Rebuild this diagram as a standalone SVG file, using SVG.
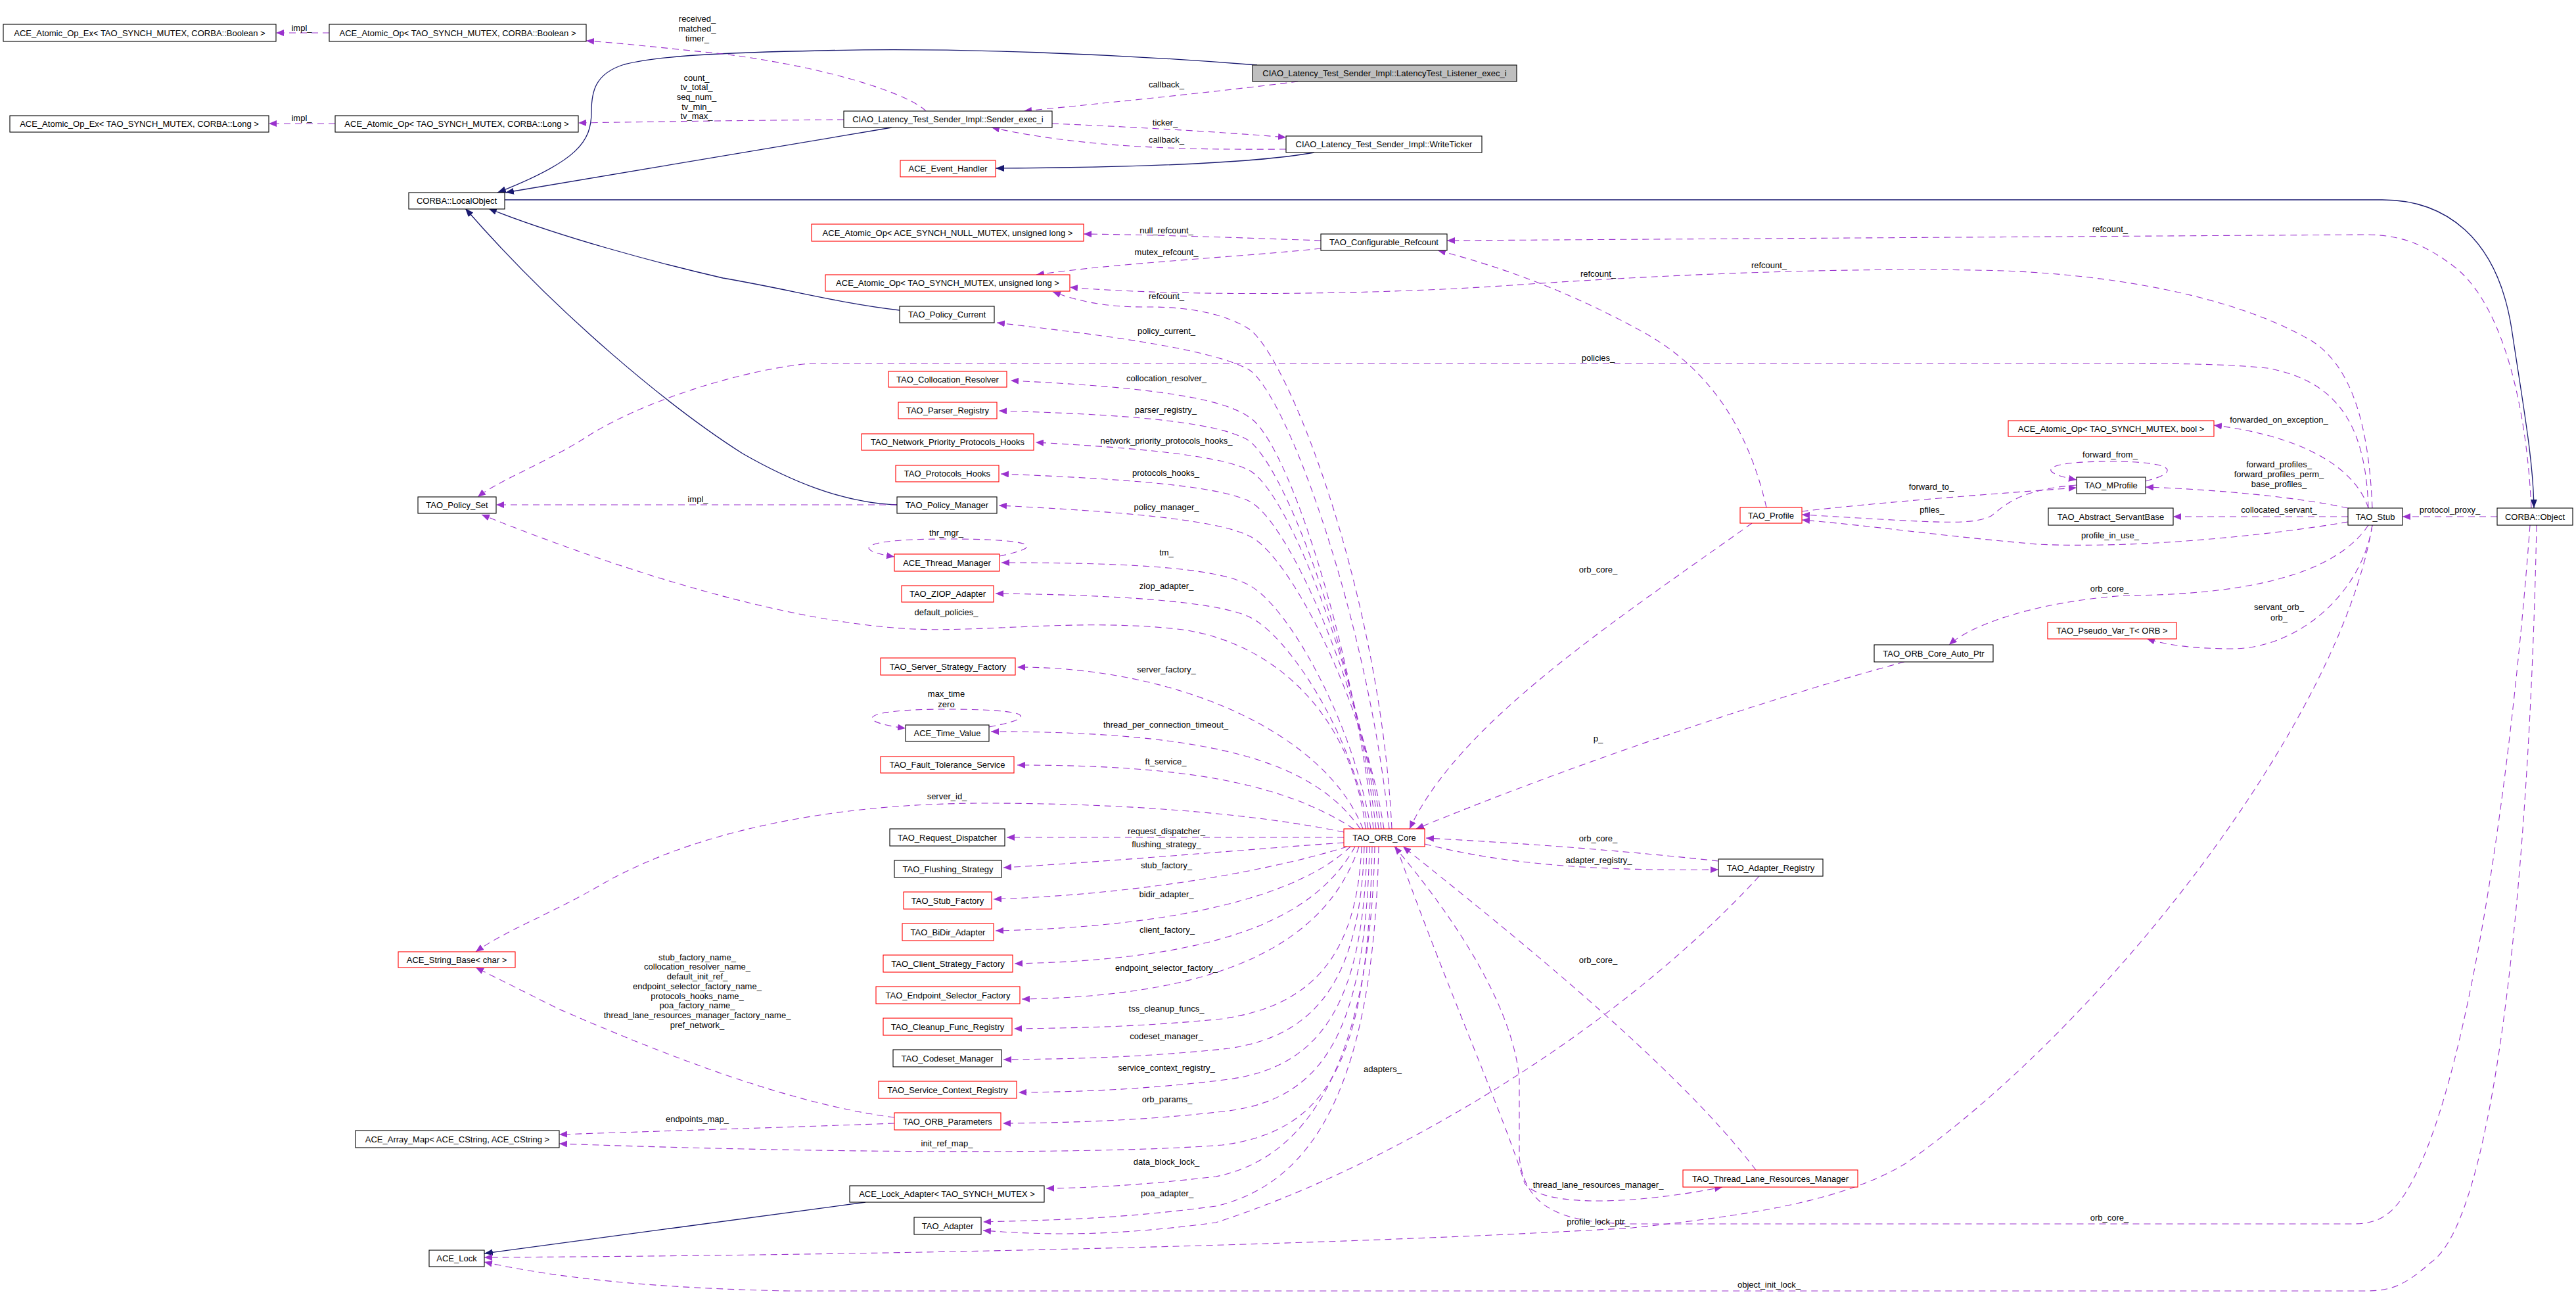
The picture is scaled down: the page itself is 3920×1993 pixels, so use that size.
<svg xmlns="http://www.w3.org/2000/svg" width="3920" height="1993" viewBox="0 0 3920 1993">
<defs>
<style>
text{font-family:"Liberation Sans",Arial,Helvetica,sans-serif;font-size:13px;fill:#000}
.n rect{fill:#fff;stroke:#000;stroke-width:1.1}
.n.r rect{stroke:#ff0000}
.n.g rect{fill:#bfbfbf}
.n text{text-anchor:middle}
.u{fill:none;stroke:#9a32cd;stroke-width:1.1;stroke-dasharray:10,7;marker-end:url(#ap)}
.i{fill:none;stroke:#191970;stroke-width:1.3;marker-end:url(#an)}
.l{text-anchor:middle}
</style>
<marker id="ap" viewBox="0 0 12 10" refX="12" refY="5" markerWidth="12" markerHeight="10" markerUnits="userSpaceOnUse" orient="auto"><path d="M0,0 L12,5 L0,10 z" fill="#9a32cd"/></marker>
<marker id="an" viewBox="0 0 13 10" refX="13" refY="5" markerWidth="13" markerHeight="10" markerUnits="userSpaceOnUse" orient="auto"><path d="M0,0 L13,5 L0,10 z" fill="#191970"/></marker>
</defs>
<rect width="3920" height="1993" fill="#fff"/>
<g id="edges">
<!-- inheritance -->
<path class="i" d="M1913,99 C1700,82 1450,72 1250,77 C1100,80 1000,85 950,98 C905,112 900,140 900,170 C900,215 880,245 757,293"/>
<path class="i" d="M1357,194 L769,293"/>
<path class="i" d="M1369,472 C1280,462 1200,440 1100,423 C1000,400 850,360 743,317"/>
<path class="i" d="M1365,768 C1280,765 1200,730 1130,690 C1020,620 850,480 708,317"/>
<path class="i" d="M768,304 L3625,304 C3720,304 3800,360 3822,500 C3840,620 3855,700 3856,773"/>
<path class="i" d="M2000,232 C1900,250 1700,255 1515,256"/>
<path class="i" d="M1317,1829 L737,1907"/>
<!-- usage -->
<path class="u" d="M501,50 L420,50"/>
<path class="u" d="M510,188 L409,188"/>
<path class="u" d="M1409,169 C1390,148 1280,105 1100,82 C1000,72 950,66 892,62"/>
<path class="u" d="M1284,182 C1150,183 1000,185 880,187"/>
<path class="u" d="M1975,124 C1850,140 1650,160 1558,169"/>
<path class="u" d="M1601,188 C1700,192 1850,200 1957,209"/>
<path class="u" d="M1957,227 C1800,228 1650,225 1509,194"/>
<path class="u" d="M2010,366 C1900,362 1750,357 1649,356"/>
<path class="u" d="M2010,378 C1900,390 1700,400 1577,418"/>
<path class="u" d="M3610,773 C3605,650 3580,560 3520,520 C3420,460 3250,420 3050,412 C2800,405 2500,420 2300,434 C2100,448 1800,452 1628,437"/>
<path class="u" d="M3852,773 C3845,620 3810,470 3740,410 C3690,370 3650,357 3600,357 L2202,366"/>
<path class="u" d="M2688,772 C2660,650 2600,560 2500,505 C2400,450 2300,410 2188,381"/>
<path class="u" d="M2118,1261 C2100,900 1960,540 1900,500 C1860,475 1800,466 1740,467 C1680,467 1640,458 1602,444"/>
<path class="u" d="M2114,1261 C2084,953 1960,600 1900,562 C1840,530 1680,510 1517,491"/>
<path class="u" d="M2090,1261 C2060,987 1960,669 1900,634 C1850,599 1700,587 1538,579"/>
<path class="u" d="M2094,1261 C2064,1007 1960,715 1900,670 C1850,640 1700,630 1520,625"/>
<path class="u" d="M2098,1261 C2068,1025 1960,745 1900,715 C1850,690 1700,680 1576,673"/>
<path class="u" d="M2102,1261 C2072,1045 1960,790 1900,762 C1850,738 1700,728 1523,721"/>
<path class="u" d="M2106,1261 C2076,1065 1960,840 1900,815 C1850,790 1700,778 1520,769"/>
<path class="u" d="M2086,1261 C2060,1100 1960,920 1900,890 C1850,862 1700,856 1524,856"/>
<path class="u" d="M2082,1261 C2060,1120 1960,965 1900,938 C1850,915 1700,905 1515,903"/>
<path class="u" d="M2078,1261 C2060,1100 1950,980 1800,958 C1650,940 1500,962 1390,957 C1200,948 950,870 733,783"/>
<path class="u" d="M2074,1261 C2020,1120 1800,1015 1548,1015"/>
<path class="u" d="M2070,1261 C2000,1160 1850,1113 1508,1113"/>
<path class="u" d="M2060,1261 C1950,1190 1800,1164 1548,1164"/>
<path class="u" d="M2045,1266 C1900,1236 1700,1222 1500,1222 C1250,1222 1050,1270 920,1343 C840,1390 770,1415 724,1448"/>
<path class="u" d="M2045,1274 L1532,1274"/>
<path class="u" d="M2045,1282 C1900,1292 1700,1310 1527,1320"/>
<path class="u" d="M2050,1288 C1950,1320 1750,1360 1512,1368"/>
<path class="u" d="M2055,1288 C1980,1360 1800,1410 1515,1416"/>
<path class="u" d="M2062,1288 C2000,1400 1850,1460 1544,1466"/>
<path class="u" d="M2068,1288 C2020,1430 1870,1515 1555,1520"/>
<path class="u" d="M2072,1288 C2065,1450 2000,1530 1860,1550 C1740,1562 1640,1564 1543,1565"/>
<path class="u" d="M2076,1288 C2070,1480 2010,1575 1870,1595 C1750,1608 1640,1611 1527,1612"/>
<path class="u" d="M2080,1288 C2075,1520 2015,1622 1870,1642 C1750,1657 1650,1661 1550,1662"/>
<path class="u" d="M2084,1288 C2078,1560 2020,1670 1870,1690 C1750,1704 1640,1708 1526,1709"/>
<path class="u" d="M2088,1288 C2082,1600 2030,1720 1860,1742 C1700,1755 1300,1756 851,1740"/>
<path class="u" d="M2092,1288 C2085,1600 2000,1760 1850,1790 C1720,1805 1650,1807 1592,1808"/>
<path class="u" d="M2098,1288 C2090,1650 2000,1800 1850,1835 C1700,1855 1600,1856 1496,1859"/>
<path class="u" d="M2677,1333 C2450,1580 2100,1780 1850,1860 C1700,1880 1600,1880 1496,1872"/>
<path class="u" d="M2125,1288 C2200,1500 2290,1700 2320,1800 C2350,1840 2500,1830 2621,1806"/>
<path class="u" d="M3850,799 C3820,1200 3750,1700 3650,1830 C3630,1855 3610,1862 3580,1862 L2480,1862 C2380,1860 2320,1840 2312,1760 L2312,1640 C2300,1520 2200,1380 2122,1288"/>
<path class="u" d="M3610,799 C3560,1100 3200,1560 2900,1770 C2800,1830 2650,1850 2484,1868 C2200,1885 1600,1908 737,1913"/>
<path class="u" d="M3860,799 C3850,1300 3800,1850 3700,1920 C3660,1955 3640,1964 3600,1964 L1200,1964 C1000,1960 850,1945 737,1920"/>
<path class="u" d="M2672,1780 C2550,1620 2300,1420 2135,1288"/>
<path class="u" d="M2168,1284 C2300,1318 2450,1325 2615,1323"/>
<path class="u" d="M2615,1310 C2450,1292 2300,1282 2170,1275"/>
<path class="u" d="M2898,1007 C2700,1060 2400,1160 2155,1261"/>
<path class="u" d="M2666,796 C2450,950 2220,1100 2145,1261"/>
<path class="u" d="M3604,773 C3600,650 3560,580 3450,560 C3380,553 3300,553 3200,553 L1233,553 C1150,560 1000,600 900,660 C840,700 760,730 727,756"/>
<path class="u" d="M3604,773 C3580,700 3480,660 3369,647"/>
<path class="u" d="M3573,773 C3500,757 3380,745 3265,741"/>
<path class="u" d="M3573,786 L3307,786"/>
<path class="u" d="M3573,794 C3450,815 3250,835 3100,828 C2950,815 2850,800 2742,791"/>
<path class="u" d="M3604,799 C3550,880 3400,905 3235,906 C3100,915 3000,950 2966,981"/>
<path class="u" d="M3610,799 C3595,900 3500,985 3400,987 C3340,987 3300,982 3267,972"/>
<path class="u" d="M2742,778 C2850,765 3050,750 3160,742"/>
<path class="u" d="M3160,738 C3070,745 3050,770 3030,785 C3000,800 2950,795 2742,783"/>
<path class="u" d="M3265,732 C3320,718 3310,702 3210,702 C3110,702 3095,718 3160,730"/>
<path class="u" d="M3800,786 L3656,786"/>
<path class="u" d="M1505,1106 C1580,1092 1575,1079 1440,1079 C1305,1079 1300,1098 1378,1108"/>
<path class="u" d="M1521,846 C1590,832 1580,820 1440,820 C1300,820 1300,838 1361,847"/>
<path class="u" d="M1365,768 L755,768"/>
<path class="u" d="M1361,1700 C1200,1680 1000,1600 850,1535 C800,1510 760,1490 724,1472"/>
<path class="u" d="M1361,1709 C1200,1715 1000,1721 851,1726"/>
<g id="edge-labels" class="l">
<text x="459" y="47">impl_</text>
<text x="459" y="184">impl_</text>
<text x="1061" y="33">received_</text>
<text x="1061" y="48">matched_</text>
<text x="1061" y="63">timer_</text>
<text x="1060" y="123">count_</text>
<text x="1060" y="137">tv_total_</text>
<text x="1060" y="152">seq_num_</text>
<text x="1060" y="167">tv_min_</text>
<text x="1060" y="181">tv_max_</text>
<text x="1775" y="133">callback_</text>
<text x="1773" y="191">ticker_</text>
<text x="1775" y="217">callback_</text>
<text x="1775" y="355">null_refcount_</text>
<text x="1775" y="388">mutex_refcount_</text>
<text x="1775" y="455">refcount_</text>
<text x="1775" y="508">policy_current_</text>
<text x="1775" y="580">collocation_resolver_</text>
<text x="1774" y="628">parser_registry_</text>
<text x="1775" y="675">network_priority_protocols_hooks_</text>
<text x="1774" y="724">protocols_hooks_</text>
<text x="1775" y="776">policy_manager_</text>
<text x="1062" y="764">impl_</text>
<text x="1440" y="815">thr_mgr_</text>
<text x="1775" y="845">tm_</text>
<text x="1775" y="896">ziop_adapter_</text>
<text x="1440" y="936">default_policies_</text>
<text x="1775" y="1023">server_factory_</text>
<text x="1440" y="1060">max_time</text>
<text x="1440" y="1076">zero</text>
<text x="1774" y="1107">thread_per_connection_timeout_</text>
<text x="1774" y="1163">ft_service_</text>
<text x="1441" y="1216">server_id_</text>
<text x="1775" y="1269">request_dispatcher_</text>
<text x="1775" y="1289">flushing_strategy_</text>
<text x="1775" y="1321">stub_factory_</text>
<text x="1775" y="1365">bidir_adapter_</text>
<text x="1776" y="1419">client_factory_</text>
<text x="1775" y="1477">endpoint_selector_factory_</text>
<text x="1775" y="1539">tss_cleanup_funcs_</text>
<text x="1775" y="1581">codeset_manager_</text>
<text x="1775" y="1629">service_context_registry_</text>
<text x="1776" y="1677">orb_params_</text>
<text x="1775" y="1772">data_block_lock_</text>
<text x="1776" y="1820">poa_adapter_</text>
<text x="2104" y="1631">adapters_</text>
<text x="1061" y="1461">stub_factory_name_</text>
<text x="1061" y="1475">collocation_resolver_name_</text>
<text x="1061" y="1490">default_init_ref_</text>
<text x="1061" y="1505">endpoint_selector_factory_name_</text>
<text x="1061" y="1520">protocols_hooks_name_</text>
<text x="1061" y="1534">poa_factory_name_</text>
<text x="1061" y="1549">thread_lane_resources_manager_factory_name_</text>
<text x="1061" y="1564">pref_network_</text>
<text x="1061" y="1707">endpoints_map_</text>
<text x="1441" y="1744">init_ref_map_</text>
<text x="2432" y="421">refcount_</text>
<text x="2692" y="408">refcount_</text>
<text x="3211" y="353">refcount_</text>
<text x="2432" y="549">policies_</text>
<text x="2432" y="871">orb_core_</text>
<text x="2432" y="1128">p_</text>
<text x="2432" y="1280">orb_core_</text>
<text x="2433" y="1313">adapter_registry_</text>
<text x="2432" y="1465">orb_core_</text>
<text x="2432" y="1807">thread_lane_resources_manager_</text>
<text x="2432" y="1863">profile_lock_ptr_</text>
<text x="2692" y="1959">object_init_lock_</text>
<text x="3210" y="1857">orb_core_</text>
<text x="2939" y="745">forward_to_</text>
<text x="2940" y="780">pfiles_</text>
<text x="3211" y="696">forward_from_</text>
<text x="3211" y="819">profile_in_use_</text>
<text x="3468" y="643">forwarded_on_exception_</text>
<text x="3468" y="711">forward_profiles_</text>
<text x="3468" y="726">forward_profiles_perm_</text>
<text x="3468" y="741">base_profiles_</text>
<text x="3468" y="780">collocated_servant_</text>
<text x="3728" y="780">protocol_proxy_</text>
<text x="3210" y="900">orb_core_</text>
<text x="3468" y="928">servant_orb_</text>
<text x="3468" y="944">orb_</text>
</g>
</g>
<g id="n-listener" class="n g"><rect x="1906" y="99" width="402" height="25"/><text x="2107" y="116">CIAO_Latency_Test_Sender_Impl::LatencyTest_Listener_exec_i</text></g>
<g id="n-sender" class="n"><rect x="1284" y="169" width="317" height="25"/><text x="1442.5" y="186">CIAO_Latency_Test_Sender_Impl::Sender_exec_i</text></g>
<g id="n-writeticker" class="n"><rect x="1957" y="207" width="298" height="25"/><text x="2106" y="224">CIAO_Latency_Test_Sender_Impl::WriteTicker</text></g>
<g id="n-eventhandler" class="n r"><rect x="1370" y="244" width="145" height="25"/><text x="1442.5" y="261">ACE_Event_Handler</text></g>
<g id="n-localobject" class="n"><rect x="622" y="293" width="146" height="25"/><text x="695" y="310">CORBA::LocalObject</text></g>
<g id="n-aoexbool" class="n"><rect x="5" y="37" width="415" height="26"/><text x="212.5" y="54.5">ACE_Atomic_Op_Ex&lt; TAO_SYNCH_MUTEX, CORBA::Boolean &gt;</text></g>
<g id="n-aobool" class="n"><rect x="501" y="37" width="391" height="26"/><text x="696.5" y="54.5">ACE_Atomic_Op&lt; TAO_SYNCH_MUTEX, CORBA::Boolean &gt;</text></g>
<g id="n-aoexlong" class="n"><rect x="15" y="176" width="394" height="25"/><text x="212" y="193">ACE_Atomic_Op_Ex&lt; TAO_SYNCH_MUTEX, CORBA::Long &gt;</text></g>
<g id="n-aolong" class="n"><rect x="510" y="176" width="370" height="25"/><text x="695" y="193">ACE_Atomic_Op&lt; TAO_SYNCH_MUTEX, CORBA::Long &gt;</text></g>
<g id="n-aonull" class="n r"><rect x="1235" y="341" width="414" height="26"/><text x="1442" y="358.5">ACE_Atomic_Op&lt; ACE_SYNCH_NULL_MUTEX, unsigned long &gt;</text></g>
<g id="n-cfgref" class="n"><rect x="2010" y="356" width="192" height="25"/><text x="2106" y="373">TAO_Configurable_Refcount</text></g>
<g id="n-aoulong" class="n r"><rect x="1256" y="418" width="372" height="25"/><text x="1442" y="435">ACE_Atomic_Op&lt; TAO_SYNCH_MUTEX, unsigned long &gt;</text></g>
<g id="n-polcur" class="n"><rect x="1369" y="466" width="144" height="25"/><text x="1441" y="483">TAO_Policy_Current</text></g>
<g id="n-collres" class="n r"><rect x="1352" y="565" width="180" height="24"/><text x="1442" y="581.5">TAO_Collocation_Resolver</text></g>
<g id="n-parser" class="n r"><rect x="1367" y="612" width="150" height="25"/><text x="1442" y="629">TAO_Parser_Registry</text></g>
<g id="n-nph" class="n r"><rect x="1311" y="660" width="262" height="25"/><text x="1442" y="677">TAO_Network_Priority_Protocols_Hooks</text></g>
<g id="n-prothooks" class="n r"><rect x="1363" y="708" width="157" height="25"/><text x="1441.5" y="725">TAO_Protocols_Hooks</text></g>
<g id="n-polmgr" class="n"><rect x="1365" y="756" width="152" height="25"/><text x="1441" y="773">TAO_Policy_Manager</text></g>
<g id="n-polset" class="n"><rect x="636" y="756" width="119" height="25"/><text x="695.5" y="773">TAO_Policy_Set</text></g>
<g id="n-thrmgr" class="n r"><rect x="1361" y="843" width="160" height="26"/><text x="1441" y="860.5">ACE_Thread_Manager</text></g>
<g id="n-ziop" class="n r"><rect x="1372" y="891" width="140" height="25"/><text x="1442" y="908">TAO_ZIOP_Adapter</text></g>
<g id="n-ssf" class="n r"><rect x="1340" y="1001" width="205" height="26"/><text x="1442.5" y="1018.5">TAO_Server_Strategy_Factory</text></g>
<g id="n-timeval" class="n"><rect x="1378" y="1103" width="127" height="25"/><text x="1441.5" y="1120">ACE_Time_Value</text></g>
<g id="n-fts" class="n r"><rect x="1340" y="1151" width="203" height="25"/><text x="1441.5" y="1168">TAO_Fault_Tolerance_Service</text></g>
<g id="n-reqdisp" class="n"><rect x="1354" y="1261" width="175" height="26"/><text x="1441.5" y="1278.5">TAO_Request_Dispatcher</text></g>
<g id="n-flush" class="n"><rect x="1361" y="1309" width="163" height="26"/><text x="1442.5" y="1326.5">TAO_Flushing_Strategy</text></g>
<g id="n-stubfac" class="n r"><rect x="1375" y="1357" width="134" height="26"/><text x="1442" y="1374.5">TAO_Stub_Factory</text></g>
<g id="n-bidir" class="n r"><rect x="1373" y="1405" width="139" height="26"/><text x="1442.5" y="1422.5">TAO_BiDir_Adapter</text></g>
<g id="n-csf" class="n r"><rect x="1344" y="1453" width="197" height="26"/><text x="1442.5" y="1470.5">TAO_Client_Strategy_Factory</text></g>
<g id="n-esf" class="n r"><rect x="1333" y="1501" width="219" height="26"/><text x="1442.5" y="1518.5">TAO_Endpoint_Selector_Factory</text></g>
<g id="n-cfr" class="n r"><rect x="1344" y="1549" width="196" height="26"/><text x="1442" y="1566.5">TAO_Cleanup_Func_Registry</text></g>
<g id="n-codeset" class="n"><rect x="1359" y="1597" width="165" height="26"/><text x="1441.5" y="1614.5">TAO_Codeset_Manager</text></g>
<g id="n-scr" class="n r"><rect x="1337" y="1645" width="210" height="26"/><text x="1442" y="1662.5">TAO_Service_Context_Registry</text></g>
<g id="n-params" class="n r"><rect x="1361" y="1693" width="162" height="26"/><text x="1442" y="1710.5">TAO_ORB_Parameters</text></g>
<g id="n-arraymap" class="n"><rect x="541" y="1720" width="310" height="26"/><text x="696" y="1737.5">ACE_Array_Map&lt; ACE_CString, ACE_CString &gt;</text></g>
<g id="n-strbase" class="n r"><rect x="606" y="1448" width="178" height="24"/><text x="695" y="1464.5">ACE_String_Base&lt; char &gt;</text></g>
<g id="n-lockadapter" class="n"><rect x="1293" y="1804" width="296" height="25"/><text x="1441" y="1821">ACE_Lock_Adapter&lt; TAO_SYNCH_MUTEX &gt;</text></g>
<g id="n-adapter" class="n"><rect x="1391" y="1852" width="102" height="26"/><text x="1442" y="1869.5">TAO_Adapter</text></g>
<g id="n-acelock" class="n"><rect x="653" y="1902" width="84" height="25"/><text x="695" y="1919">ACE_Lock</text></g>
<g id="n-orbcore" class="n r"><rect x="2045" y="1261" width="123" height="27"/><text x="2106.5" y="1279">TAO_ORB_Core</text></g>
<g id="n-adreg" class="n"><rect x="2615" y="1307" width="159" height="26"/><text x="2694.5" y="1324.5">TAO_Adapter_Registry</text></g>
<g id="n-tlrm" class="n r"><rect x="2561" y="1780" width="266" height="26"/><text x="2694" y="1797.5">TAO_Thread_Lane_Resources_Manager</text></g>
<g id="n-autoptr" class="n"><rect x="2852" y="981" width="181" height="26"/><text x="2942.5" y="998.5">TAO_ORB_Core_Auto_Ptr</text></g>
<g id="n-profile" class="n r"><rect x="2648" y="772" width="94" height="24"/><text x="2695" y="788.5">TAO_Profile</text></g>
<g id="n-mprofile" class="n"><rect x="3160" y="726" width="105" height="25"/><text x="3212.5" y="743">TAO_MProfile</text></g>
<g id="n-servantbase" class="n"><rect x="3117" y="773" width="190" height="26"/><text x="3212" y="790.5">TAO_Abstract_ServantBase</text></g>
<g id="n-aobool2" class="n r"><rect x="3056" y="640" width="313" height="24"/><text x="3212.5" y="656.5">ACE_Atomic_Op&lt; TAO_SYNCH_MUTEX, bool &gt;</text></g>
<g id="n-pseudovar" class="n r"><rect x="3116" y="947" width="196" height="25"/><text x="3214" y="964">TAO_Pseudo_Var_T&lt; ORB &gt;</text></g>
<g id="n-stub" class="n"><rect x="3573" y="773" width="83" height="26"/><text x="3614.5" y="790.5">TAO_Stub</text></g>
<g id="n-object" class="n"><rect x="3800" y="773" width="115" height="26"/><text x="3857.5" y="790.5">CORBA::Object</text></g>
</svg>
